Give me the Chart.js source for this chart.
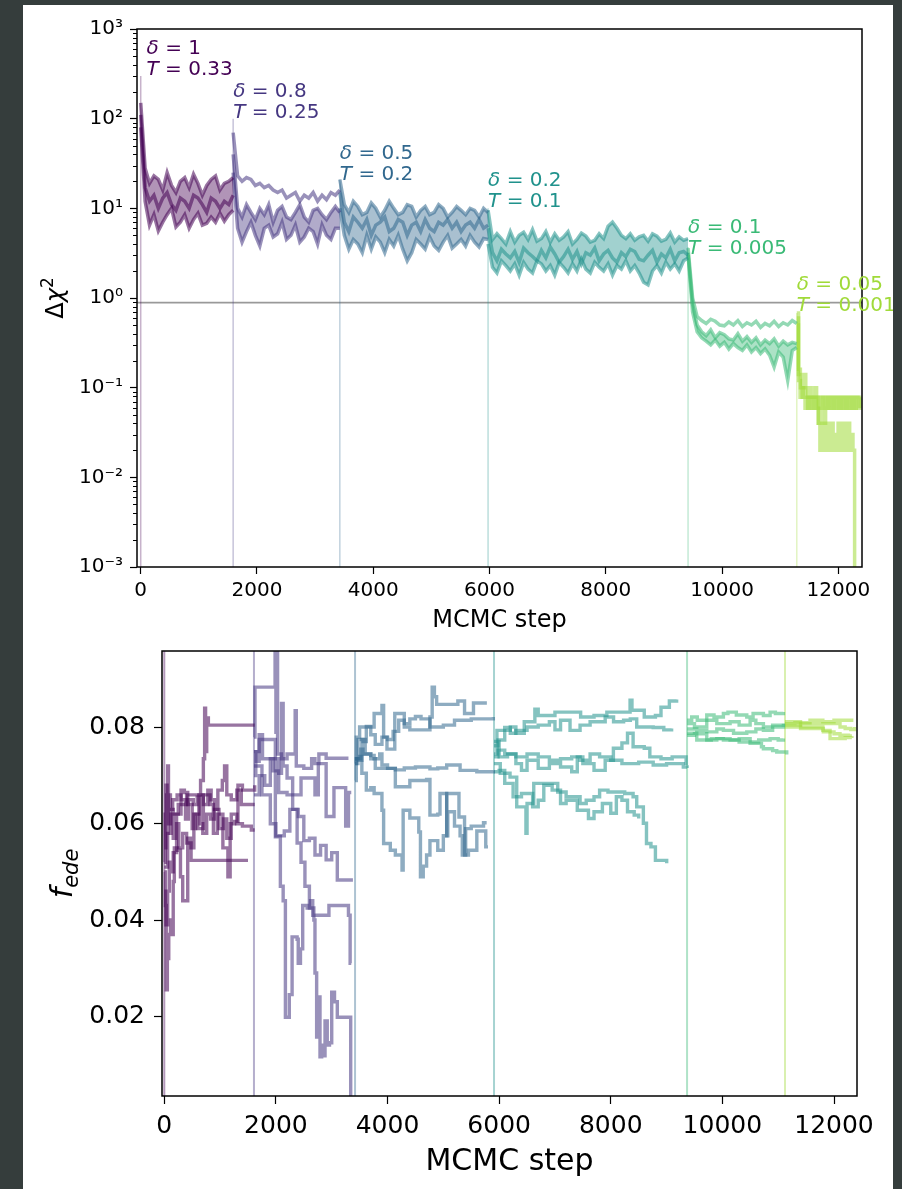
<!DOCTYPE html>
<html>
<head>
<meta charset="utf-8">
<script src="https://cdn.jsdelivr.net/npm/chart.js@4.4.1/dist/chart.umd.min.js"></script>
<style>
  html, body { margin: 0; padding: 0; background: #353d3c; }
  body { width: 902px; height: 1189px; position: relative; overflow: hidden; }
  #panel { position: absolute; left: 23px; top: 5px; width: 870px; height: 1184px; background: #fff; }
  #chiChart { position: absolute; left: 0; top: 0; }
  #fedeChart { position: absolute; left: 0; top: 643px; }
</style>
</head>
<body>
<div id="panel">
  <canvas id="chiChart" width="870" height="643"></canvas>
  <canvas id="fedeChart" width="870" height="541"></canvas>
</div>
<script>
// annealing stages
const deltas = ['1', '0.8', '0.5', '0.2', '0.1', '0.05'];
const temps = ['0.33', '0.25', '0.2', '0.1', '0.005', '0.001'];
const stageColors = ['#440154', '#453781', '#31688e', '#20928c', '#3aba76', '#a0da39'];
const stepTicks = [0, 2000, 4000, 6000, 8000, 10000, 12000];

// top panel: delta chi^2
const chiStarts = [0, 1590, 3425, 5975, 9415, 11285];
const chiEnds = [1590, 3425, 5975, 9415, 11285, 12370];
const chiEnds6 = [12370, 12370, 12280];
const chiPeaks = [300, 100, 21, 10, 3.7, 0.68];
const chiTextX = [100, 1590, 3425, 5975, 9415, 11285];
const chiTextAt = [300, 100, 20, 10, 3.0, 0.7];
const chiFill = [[0, 2], [1, 2], [0, 2], [0, 2], [1, 2]];
const chiRef = 0.887;
const chiTicks = [1e-3, 1e-2, 1e-1, 1, 10, 100, 1000];
const chiTickLabels = ['10⁻³', '10⁻²', '10⁻¹', '10⁰', '10¹', '10²', '10³'];

// chains, sampled evenly across each stage
const chi1 = [
  [150, 28, 19, 23, 21, 16, 25, 18, 15, 20, 22, 17, 24, 19, 14, 18, 21, 23, 16, 19, 20, 22],
  [110, 17, 12, 14, 10, 13, 15, 11, 9.5, 13, 12, 10, 14, 13, 11, 9, 13, 12, 10, 12, 11, 14],
  [80, 12, 6.5, 8.5, 5.6, 7, 8.5, 10, 6.2, 7, 8.5, 6, 7.5, 8.8, 6.5, 6.8, 8, 7, 8.8, 7.2, 8.5, 9.5]
];
const chi2 = [
  [70, 23, 20, 22, 21, 18, 19, 17, 18, 16, 15, 16, 13, 14, 15, 12, 14, 13, 15, 12, 14, 12.5, 15, 14, 16],
  [40, 10, 8, 11, 9, 7.5, 10, 8.5, 11, 7, 9.5, 10.5, 8, 7.5, 9, 11, 8, 7, 9.5, 10, 8.5, 7.5, 9, 10.5, 9],
  [25, 6, 4.2, 5.5, 7, 5, 3.8, 6, 6.5, 4.8, 5.2, 7, 4.5, 5, 6.5, 4.2, 4.8, 6, 5.5, 4, 6.5, 5, 4.5, 6, 6]
];
const chi3 = [
  [21, 11, 9, 12, 10.5, 8.5, 9, 11.5, 10, 8, 9.5, 12, 10, 8.5, 9, 11, 10.5, 8, 9.5, 10.5, 8.5, 9, 11, 10, 8, 9, 10.5, 9.5, 8.5, 10, 9.5, 8, 10, 9],
  [15, 7, 5.5, 8, 7, 6, 7.5, 5, 6.5, 7, 8, 5.5, 6, 7.5, 7, 5, 6.5, 7, 5.5, 7.5, 6, 5.5, 7, 6.5, 7.5, 6, 7, 5.5, 6.5, 7, 6, 7.5, 6, 6.5],
  [10, 5, 3.5, 4.5, 4, 3.2, 5, 3.5, 4.8, 4.2, 3.2, 4.5, 3.8, 5, 3.5, 2.6, 3.2, 4.5, 4, 3.5, 4.8, 3.8, 3.4, 4.2, 5, 3.6, 4, 4.5, 3.8, 5, 4.2, 3.7, 4.6, 4.5]
];
const chi4 = [
  [9.5, 4.5, 5.2, 4.6, 4, 5.5, 4.2, 5, 5.4, 4.5, 5.8, 4.3, 4.6, 5.5, 4.2, 5.2, 4.4, 4.8, 5.5, 4, 4.5, 5.3, 4.9, 4.2, 4.4, 5.2, 4.6, 6.3, 7, 6, 5, 4.6, 5.2, 4.4, 4.8, 5, 4.3, 5.2, 4.9, 4.3, 4.5, 5.3, 4.2, 4.8, 4.4, 4.6],
  [6, 3.2, 2.6, 3.5, 3.1, 2.8, 3.3, 2.5, 3.6, 3.2, 2.9, 2.6, 3.4, 2.8, 3.7, 3.1, 2.5, 2.9, 3.5, 2.7, 3.3, 2.4, 3.2, 3, 3.6, 2.6, 3.1, 3.4, 2.8, 2.5, 3.2, 2.9, 3.5, 3.3, 2.7, 2.6, 3, 3.4, 2.5, 3.1, 2.8, 3.5, 2.6, 3.2, 3.3, 3],
  [4, 2.2, 1.9, 2.6, 2.3, 2, 2.4, 1.8, 2.5, 2.1, 1.9, 2.6, 2.4, 2, 2.3, 1.8, 2.5, 2.2, 1.9, 2.4, 2, 2.7, 2.1, 1.9, 2.5, 2.2, 2, 2.4, 1.8, 2.3, 2.1, 2.6, 2, 2.3, 1.9, 1.5, 1.4, 2, 2.3, 1.9, 2.5, 2.1, 2.4, 2, 2.6, 2.8]
];
const chi5 = [
  [3.6, 1.0, 0.62, 0.56, 0.52, 0.58, 0.55, 0.5, 0.49, 0.54, 0.5, 0.56, 0.48, 0.53, 0.5, 0.55, 0.47, 0.52, 0.49, 0.55, 0.48, 0.53, 0.5, 0.56, 0.52],
  [3.2, 0.85, 0.5, 0.42, 0.38, 0.44, 0.36, 0.41, 0.39, 0.35, 0.34, 0.4, 0.33, 0.37, 0.32, 0.36, 0.3, 0.34, 0.31, 0.35, 0.29, 0.33, 0.3, 0.32, 0.31],
  [3, 0.7, 0.42, 0.36, 0.33, 0.3, 0.34, 0.29, 0.32, 0.27, 0.31, 0.28, 0.26, 0.3, 0.25, 0.28, 0.24, 0.27, 0.23, 0.17, 0.25, 0.22, 0.12, 0.26, 0.28]
];
const chi6 = [
  [0.68, 0.16, 0.14, 0.1, 0.14, 0.1, 0.078, 0.1, 0.078, 0.078, 0.1, 0.078, 0.059, 0.078, 0.078, 0.059, 0.078, 0.059, 0.078, 0.078, 0.059, 0.078, 0.059, 0.078, 0.059, 0.078, 0.078, 0.059, 0.078, 0.059, 0.078, 0.059, 0.078, 0.078, 0.059, 0.078],
  [0.6, 0.12, 0.1, 0.078, 0.1, 0.078, 0.059, 0.078, 0.078, 0.059, 0.078, 0.059, 0.04, 0.059, 0.078, 0.04, 0.059, 0.078, 0.059, 0.078, 0.059, 0.078, 0.078, 0.059, 0.078, 0.059, 0.078, 0.059, 0.078, 0.078, 0.059, 0.078, 0.059, 0.078, 0.078, 0.059],
  [0.5, 0.14, 0.078, 0.1, 0.078, 0.059, 0.078, 0.059, 0.078, 0.059, 0.078, 0.059, 0.078, 0.04, 0.02, 0.04, 0.03, 0.02, 0.04, 0.02, 0.03, 0.04, 0.02, 0.03, 0.02, 0.04, 0.03, 0.02, 0.04, 0.02, 0.03, 0.04, 0.02, 0.03, 0.02, 0.00001]
];

// bottom panel: f_ede, chains as [step, value]
const fedeStarts = [0, 1607, 3418, 5908, 9367, 11122];
const fedeTicks = [0.02, 0.04, 0.06, 0.08];
const fedeTickLabels = ['0.02', '0.04', '0.06', '0.08'];

const fede1 = [
  [[0,0.051],[60,0.058],[120,0.062],[250,0.064],[400,0.066],[560,0.066],[650,0.069],[700,0.0735],[723,0.084],[740,0.075],[760,0.082],[790,0.0805],[1620,0.0805]],
  [[0,0.055],[30,0.068],[50,0.058],[70,0.066],[110,0.063],[160,0.057],[200,0.060],[260,0.055],[330,0.058],[400,0.056],[480,0.0524],[1500,0.0524]],
  [[0,0.05],[20,0.043],[35,0.0255],[55,0.032],[80,0.037],[110,0.040],[140,0.037],[160,0.048],[180,0.055],[240,0.0545],[290,0.049],[330,0.044],[380,0.044],[420,0.057],[470,0.055],[530,0.062],[600,0.059],[700,0.066],[820,0.064],[880,0.058],[950,0.062],[1050,0.055],[1140,0.049],[1180,0.060],[1260,0.0605],[1320,0.068],[1400,0.067],[1620,0.068]],
  [[0,0.052],[15,0.062],[40,0.066],[60,0.072],[75,0.060],[110,0.063],[150,0.065],[230,0.066],[300,0.065],[380,0.061],[430,0.065],[520,0.064],[590,0.0655],[640,0.060],[690,0.058],[760,0.062],[830,0.061],[900,0.063],[980,0.059],[1060,0.061],[1120,0.057],[1200,0.062],[1300,0.060],[1400,0.0595],[1560,0.0587],[1620,0.0587]],
  [[0,0.046],[30,0.039],[60,0.046],[90,0.052],[130,0.050],[160,0.054],[220,0.062],[300,0.067],[360,0.0665],[420,0.064],[500,0.059],[560,0.062],[620,0.066],[700,0.064],[780,0.067],[840,0.065],[900,0.063],[960,0.067],[1040,0.069],[1080,0.072],[1120,0.066],[1200,0.065],[1300,0.067],[1380,0.064],[1620,0.064]]
];
const fede2 = [
  [[1607,0.078],[1625,0.0884],[1975,0.0884],[1985,0.0965],[2000,0.079],[2015,0.0965],[2030,0.0745],[2100,0.0735],[2200,0.0745],[2330,0.0745],[2345,0.0835],[2365,0.072],[2500,0.0715],[2640,0.0735],[2700,0.0725],[2770,0.0745],[2900,0.0736],[3300,0.0736]],
  [[1607,0.070],[1640,0.075],[1700,0.0775],[1980,0.0775],[1990,0.0573],[2060,0.0573],[2080,0.047],[2130,0.044],[2170,0.0198],[2230,0.0198],[2240,0.0245],[2290,0.0365],[2380,0.036],[2400,0.031],[2440,0.034],[2480,0.043],[2560,0.0425],[2620,0.044],[2660,0.041],[2900,0.041],[2950,0.043],[3300,0.041],[3330,0.031],[3350,0.031]],
  [[1607,0.066],[1700,0.070],[1800,0.068],[1900,0.0735],[2000,0.0735],[2050,0.0665],[2200,0.066],[2300,0.063],[2380,0.056],[2450,0.052],[2520,0.047],[2600,0.0425],[2680,0.040],[2700,0.029],[2730,0.0157],[2760,0.024],[2790,0.0116],[2820,0.014],[2850,0.0118],[2880,0.019],[2920,0.014],[2960,0.0145],[3000,0.025],[3050,0.023],[3100,0.0198],[3330,0.0198],[3340,0.001]],
  [[1607,0.075],[1650,0.073],[1700,0.0785],[1760,0.0735],[1900,0.0735],[1950,0.071],[2050,0.0705],[2100,0.085],[2130,0.072],[2200,0.0695],[2300,0.066],[2400,0.066],[2450,0.0695],[2600,0.0695],[2700,0.066],[2760,0.0725],[2850,0.0725],[2900,0.0615],[3000,0.0615],[3040,0.0675],[3200,0.0675],[3250,0.0595],[3300,0.0665],[3350,0.0665]],
  [[1607,0.072],[1700,0.072],[1750,0.066],[1850,0.066],[1900,0.060],[2000,0.0575],[2150,0.0585],[2250,0.063],[2400,0.0615],[2500,0.0565],[2600,0.057],[2700,0.0535],[2800,0.0555],[2900,0.0525],[3000,0.054],[3100,0.0483],[3380,0.0483]]
];
const fede3 = [
  [[3418,0.0725],[3440,0.078],[3500,0.0801],[3740,0.0801],[3760,0.0829],[3900,0.0846],[3930,0.078],[3990,0.0755],[4130,0.0829],[4283,0.0829],[4300,0.0801],[4400,0.0795],[4760,0.0822],[4800,0.0884],[4840,0.0864],[4880,0.0848],[5240,0.0848],[5260,0.0855],[5380,0.0829],[5520,0.0829],[5540,0.0851],[5780,0.0851]],
  [[3418,0.0735],[3480,0.0732],[3540,0.0775],[3600,0.0745],[3700,0.0742],[3760,0.0735],[3860,0.0745],[3900,0.0722],[4000,0.0715],[4140,0.0712],[4300,0.0716],[4500,0.0718],[4760,0.0714],[4900,0.0716],[5060,0.0722],[5300,0.0711],[5600,0.0708],[5896,0.0711]],
  [[3418,0.0735],[3500,0.074],[3540,0.0705],[3620,0.067],[3700,0.0675],[3760,0.0663],[3900,0.0628],[3930,0.0559],[4050,0.0545],[4140,0.0535],[4260,0.0504],[4280,0.0628],[4400,0.0612],[4560,0.0583],[4590,0.049],[4640,0.0512],[4700,0.0535],[4760,0.0565],[4900,0.0545],[5000,0.0575],[5060,0.0663],[5240,0.0663],[5280,0.0614],[5360,0.0614],[5380,0.0535],[5450,0.0545],[5600,0.0585],[5740,0.0585],[5760,0.0552],[5800,0.0552]],
  [[3418,0.069],[3440,0.0735],[3520,0.0755],[3560,0.0745],[3700,0.0735],[3780,0.0715],[4134,0.0715],[4140,0.0677],[4300,0.0677],[4400,0.069],[4700,0.0692],[4760,0.0618],[4900,0.062],[4940,0.0663],[5050,0.0663],[5060,0.0575],[5080,0.0625],[5150,0.0625],[5200,0.0595],[5300,0.0575],[5340,0.0535],[5400,0.059],[5500,0.0595],[5700,0.0595],[5720,0.0602],[5776,0.0602]],
  [[3418,0.0725],[3470,0.0775],[3560,0.0771],[3620,0.0802],[3700,0.0785],[3780,0.0765],[3900,0.078],[4000,0.0775],[4100,0.0792],[4200,0.0815],[4300,0.0808],[4400,0.0818],[4500,0.0823],[4600,0.0818],[4760,0.0801],[5000,0.0805],[5200,0.0815],[5500,0.0818],[5896,0.0822]]
];
const fede4 = [
  [[5908,0.0745],[5960,0.0794],[6100,0.0794],[6200,0.0801],[6300,0.0788],[6400,0.0788],[6450,0.0812],[6620,0.0812],[6640,0.0838],[6700,0.0825],[6900,0.0825],[7000,0.0832],[7450,0.0832],[7460,0.0822],[7700,0.0825],[7930,0.0832],[8320,0.0832],[8346,0.0857],[8380,0.0836],[8500,0.0836],[8600,0.0822],[8800,0.0825],[8900,0.0842],[9050,0.0855],[9180,0.0858]],
  [[5908,0.0762],[5980,0.0774],[6100,0.080],[6200,0.0788],[6300,0.0794],[6500,0.0801],[6700,0.0805],[6900,0.0812],[7000,0.0795],[7100,0.0815],[7270,0.0794],[7350,0.0794],[7450,0.0805],[7630,0.0812],[7900,0.0822],[8050,0.0812],[8230,0.0815],[8350,0.0818],[8465,0.0801],[8600,0.0801],[8760,0.080],[8950,0.0795],[9090,0.0798]],
  [[5908,0.0725],[6020,0.0705],[6195,0.0697],[6315,0.0635],[6480,0.058],[6500,0.0642],[6620,0.0684],[6900,0.0684],[7050,0.0666],[7200,0.0656],[7450,0.0642],[7560,0.0649],[7700,0.0656],[7800,0.0670],[7950,0.0666],[8100,0.0666],[8250,0.0663],[8400,0.0656],[8465,0.0635],[8584,0.0601],[8640,0.0559],[8720,0.0552],[8800,0.0524],[8950,0.0524],[9002,0.0518]],
  [[5908,0.0739],[5980,0.0753],[6100,0.0745],[6300,0.0739],[6500,0.0745],[6700,0.0739],[6900,0.0732],[7100,0.0735],[7300,0.0739],[7450,0.0732],[7630,0.0745],[7800,0.0739],[8000,0.0732],[8200,0.0725],[8500,0.0728],[8760,0.0722],[9000,0.0725],[9300,0.0718],[9367,0.0716]],
  [[5908,0.0771],[6000,0.0739],[6150,0.0745],[6300,0.0725],[6400,0.0711],[6500,0.0732],[6700,0.0715],[6900,0.0725],[7100,0.0718],[7300,0.0708],[7400,0.0739],[7500,0.0725],[7700,0.0711],[7900,0.0732],[8047,0.0757],[8200,0.0768],[8300,0.0788],[8400,0.0760],[8600,0.0757],[8700,0.0739],[8900,0.0735],[9100,0.0739],[9350,0.0722]],
  [[5908,0.0708],[6000,0.0711],[6100,0.0684],[6250,0.0656],[6400,0.0663],[6600,0.0635],[6700,0.0649],[6800,0.0680],[6950,0.0670],[7100,0.0642],[7200,0.0649],[7400,0.0628],[7600,0.0611],[7700,0.0625],[7850,0.0642],[8000,0.0622],[8100,0.0656],[8200,0.0649],[8300,0.0625],[8420,0.0618],[8500,0.0611]]
];
const fede5 = [
  [[9367,0.0815],[9450,0.0822],[9550,0.0815],[9720,0.0826],[9850,0.0822],[10018,0.0829],[10100,0.0832],[10250,0.0826],[10437,0.0822],[10550,0.0829],[10735,0.0825],[10855,0.0832],[10950,0.0829],[11093,0.0832]],
  [[9367,0.0808],[9500,0.0801],[9720,0.0815],[9900,0.0808],[10138,0.0812],[10300,0.0805],[10497,0.0815],[10600,0.0808],[10735,0.0801],[10900,0.0805],[11093,0.0801]],
  [[9367,0.0797],[9541,0.0794],[9720,0.0791],[9900,0.0797],[10018,0.0794],[10200,0.0788],[10437,0.0791],[10600,0.0797],[10735,0.0794],[10900,0.0801],[11093,0.0808]],
  [[9367,0.0784],[9500,0.0787],[9720,0.0774],[9900,0.0777],[10138,0.0774],[10300,0.0777],[10497,0.0770],[10650,0.0774],[10855,0.0777],[11000,0.0774],[11093,0.0777]],
  [[9367,0.0788],[9541,0.0774],[9800,0.0777],[10018,0.0774],[10300,0.0770],[10497,0.0767],[10700,0.0760],[10735,0.0756],[10900,0.0752],[10974,0.0749],[11153,0.0744]]
];
const fede6 = [
  [[11122,0.0808],[11300,0.081],[11570,0.0815],[11800,0.0812],[12000,0.0815],[12347,0.0815]],
  [[11122,0.0805],[11400,0.0808],[11929,0.0808],[12108,0.0801],[12200,0.0798],[12300,0.0796],[12370,0.0801]],
  [[11122,0.0812],[11400,0.0798],[11809,0.0791],[12000,0.0787],[12108,0.0784],[12227,0.0784],[12290,0.0786]],
  [[11122,0.0801],[11500,0.0801],[11800,0.0794],[11929,0.0777],[12200,0.0779],[12320,0.0778]]
];

const FONT = "'DejaVu Sans', sans-serif";

function rgba(hex, a) {
  const n = parseInt(hex.slice(1), 16);
  return `rgba(${n >> 16}, ${(n >> 8) & 255}, ${n & 255}, ${a})`;
}

// values evenly placed between stage start and end
function spread(vals, start, end) {
  const dx = (end - start) / (vals.length - 1);
  return vals.map((v, i) => ({ x: start + i * dx, y: v }));
}

// draw text pieces one after another, some in italic
function mathText(ctx, x, y, parts, size) {
  parts.forEach(([t, italic, sz, dy]) => {
    ctx.font = (italic ? 'italic ' : '') + (sz || size) + 'px ' + FONT;
    ctx.fillText(t, x, y + (dy || 0));
    x += ctx.measureText(t).width;
  });
}

function partsWidth(ctx, parts, size) {
  let w = 0;
  parts.forEach(([t, italic, sz]) => {
    ctx.font = (italic ? 'italic ' : '') + (sz || size) + 'px ' + FONT;
    w += ctx.measureText(t).width;
  });
  return w;
}

function rotatedTitle(ctx, cx, cy, parts, size) {
  ctx.save();
  ctx.translate(cx, cy);
  ctx.rotate(-Math.PI / 2);
  ctx.textBaseline = 'alphabetic';
  mathText(ctx, -partsWidth(ctx, parts, size) / 2, 0, parts, size);
  ctx.restore();
}

function axisOpts(size, tickLen, pad) {
  return {
    ticks: { autoSkip: false, maxRotation: 0, padding: pad, color: '#000', font: { family: FONT, size: size } },
    grid: { drawOnChartArea: false, drawTicks: true, tickLength: tickLen, tickColor: '#000', tickWidth: 1.2 },
    border: { display: false }
  };
}

// ---------- top chart ----------
const chiSets = [];
[chi1, chi2, chi3, chi4, chi5, chi6].forEach((chains, s) => {
  const base = chiSets.length;
  chains.forEach((vals, c) => {
    const end = s === 5 ? chiEnds6[c] : chiEnds[s];
    const ds = {
      data: spread(vals, chiStarts[s], end),
      borderColor: rgba(stageColors[s], 0.55),
      borderWidth: 3.5,
      stepped: s === 5,
      clip: 0,
      fill: false
    };
    // light band between two chains of the stage
    if (chiFill[s] && chiFill[s][0] === c) {
      ds.fill = { target: base + chiFill[s][1] };
      ds.backgroundColor = rgba(stageColors[s], 0.42);
    }
    chiSets.push(ds);
  });
  chiSets.push({
    data: [{ x: chiStarts[s], y: 1e-5 }, { x: chiStarts[s], y: chiPeaks[s] }],
    borderColor: rgba(stageColors[s], 0.3),
    borderWidth: 1.5,
    clip: 0,
    fill: false
  });
});
chiSets.push({
  data: [{ x: -1000, y: chiRef }, { x: 13000, y: chiRef }],
  borderColor: 'rgba(0,0,0,0.4)',
  borderWidth: 1.8,
  clip: 0,
  fill: false
});

const chiDecor = {
  id: 'chiDecor',
  afterDraw(chart) {
    const { ctx, chartArea: a, scales: { x, y } } = chart;
    ctx.save();
    ctx.strokeStyle = '#000';
    ctx.lineWidth = 1;
    for (let k = -3; k < 3; k++) {
      for (let m = 2; m < 10; m++) {
        const py = Math.round(y.getPixelForValue(m * Math.pow(10, k))) + 0.5;
        ctx.beginPath();
        ctx.moveTo(a.left - 4, py);
        ctx.lineTo(a.left, py);
        ctx.stroke();
      }
    }
    ctx.lineWidth = 1.5;
    ctx.strokeRect(a.left, a.top, a.right - a.left, a.bottom - a.top);

    ctx.textBaseline = 'alphabetic';
    deltas.forEach((d, s) => {
      const px = x.getPixelForValue(chiTextX[s]);
      const py = y.getPixelForValue(chiTextAt[s]) - 1;
      ctx.fillStyle = stageColors[s];
      mathText(ctx, px, py - 21, [['δ', true], [' = ' + d, false]], 20);
      mathText(ctx, px, py, [['T', true], [' = ' + temps[s], false]], 20);
    });

    ctx.fillStyle = '#000';
    ctx.font = '24px ' + FONT;
    ctx.textAlign = 'center';
    ctx.fillText('MCMC step', (a.left + a.right) / 2, a.bottom + 60);
    ctx.textAlign = 'left';
    rotatedTitle(ctx, 40, (a.top + a.bottom) / 2, [['Δ', false], ['χ', true], ['2', false, 17, -10]], 24);
    ctx.restore();
  }
};

const chiX = axisOpts(20, 7, 5);
const chiY = axisOpts(20, 7, 7);
new Chart(document.getElementById('chiChart'), {
  type: 'line',
  data: { datasets: chiSets },
  options: {
    responsive: false,
    animation: false,
    devicePixelRatio: 1,
    layout: { padding: { left: 0, right: 31, top: 24, bottom: 0 } },
    plugins: { legend: { display: false }, tooltip: { enabled: false }, filler: { propagate: false } },
    elements: { point: { radius: 0 }, line: { tension: 0 } },
    scales: {
      x: Object.assign(chiX, {
        type: 'linear', min: -64, max: 12407,
        afterBuildTicks: s => { s.ticks = stepTicks.map(v => ({ value: v })); },
        afterFit: s => { s.height = 81; s.paddingLeft = 0; s.paddingRight = 0; },
        ticks: Object.assign(chiX.ticks, { callback: v => String(v) })
      }),
      y: Object.assign(chiY, {
        type: 'logarithmic', min: 1e-3, max: 1e3,
        afterBuildTicks: s => { s.ticks = chiTicks.map(v => ({ value: v })); },
        afterFit: s => { s.width = 114; s.paddingTop = 0; s.paddingBottom = 0; },
        ticks: Object.assign(chiY.ticks, { callback: (v, i) => chiTickLabels[i] })
      })
    }
  },
  plugins: [chiDecor]
});

// ---------- bottom chart ----------
const fedeSets = [];
[fede1, fede2, fede3, fede4, fede5, fede6].forEach((chains, s) => {
  chains.forEach(pts => fedeSets.push({
    data: pts.map(([x, y]) => ({ x, y })),
    borderColor: rgba(stageColors[s], 0.55),
    borderWidth: 3.4,
    stepped: true,
    clip: 0
  }));
  fedeSets.push({
    data: [{ x: fedeStarts[s], y: 0 }, { x: fedeStarts[s], y: 0.2 }],
    borderColor: rgba(stageColors[s], 0.4),
    borderWidth: 2,
    clip: 0
  });
});

const fedeDecor = {
  id: 'fedeDecor',
  afterDraw(chart) {
    const { ctx, chartArea: a } = chart;
    ctx.save();
    ctx.strokeStyle = '#000';
    ctx.lineWidth = 1.5;
    ctx.strokeRect(a.left, a.top, a.right - a.left, a.bottom - a.top);
    ctx.fillStyle = '#000';
    ctx.textBaseline = 'alphabetic';
    ctx.font = '30px ' + FONT;
    ctx.textAlign = 'center';
    ctx.fillText('MCMC step', (a.left + a.right) / 2, a.bottom + 74);
    ctx.textAlign = 'left';
    rotatedTitle(ctx, 49, (a.top + a.bottom) / 2, [['f', true], ['ede', true, 21, 6]], 30);
    ctx.restore();
  }
};

const fedeX = axisOpts(25, 8, 7);
const fedeY = axisOpts(25, 8, 9);
new Chart(document.getElementById('fedeChart'), {
  type: 'line',
  data: { datasets: fedeSets },
  options: {
    responsive: false,
    animation: false,
    devicePixelRatio: 1,
    layout: { padding: { left: 0, right: 36, top: 3, bottom: 0 } },
    plugins: { legend: { display: false }, tooltip: { enabled: false } },
    elements: { point: { radius: 0 }, line: { tension: 0, fill: false } },
    scales: {
      x: Object.assign(fedeX, {
        type: 'linear', min: -41, max: 12412,
        afterBuildTicks: s => { s.ticks = stepTicks.map(v => ({ value: v })); },
        afterFit: s => { s.height = 93; s.paddingLeft = 0; s.paddingRight = 0; },
        ticks: Object.assign(fedeX.ticks, { callback: v => String(v) })
      }),
      y: Object.assign(fedeY, {
        type: 'linear', min: 0.00343, max: 0.0959,
        afterBuildTicks: s => { s.ticks = fedeTicks.map(v => ({ value: v })); },
        afterFit: s => { s.width = 139; s.paddingTop = 0; s.paddingBottom = 0; },
        ticks: Object.assign(fedeY.ticks, { callback: (v, i) => fedeTickLabels[i] })
      })
    }
  },
  plugins: [fedeDecor]
});
</script>
</body>
</html>
